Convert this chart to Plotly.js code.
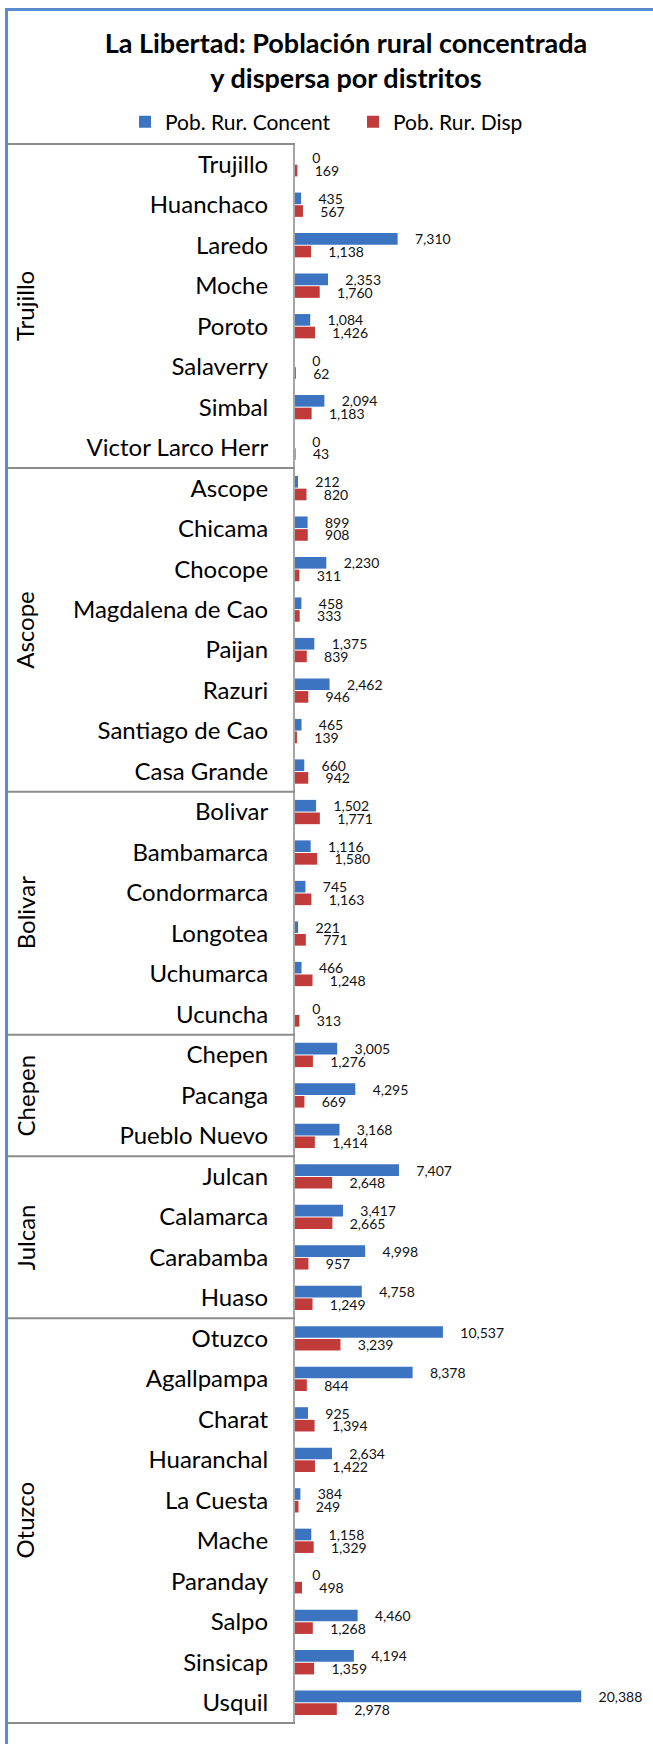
<!DOCTYPE html>
<html>
<head>
<meta charset="utf-8">
<script src="https://cdn.plot.ly/plotly-3.0.1.min.js"></script>
<style>
  html, body { margin: 0; padding: 0; background: #ffffff; }
  #chart { width: 653px; height: 1744px; }
</style>
</head>
<body>
<div id="chart"></div>
<script>
// ---- Data ----
var provinces = [
  'Trujillo','Trujillo','Trujillo','Trujillo','Trujillo','Trujillo','Trujillo','Trujillo',
  'Ascope','Ascope','Ascope','Ascope','Ascope','Ascope','Ascope','Ascope',
  'Bolivar','Bolivar','Bolivar','Bolivar','Bolivar','Bolivar',
  'Chepen','Chepen','Chepen',
  'Julcan','Julcan','Julcan','Julcan',
  'Otuzco','Otuzco','Otuzco','Otuzco','Otuzco','Otuzco','Otuzco','Otuzco','Otuzco','Otuzco'
];
var districts = [
  'Trujillo','Huanchaco','Laredo','Moche','Poroto','Salaverry','Simbal','Victor Larco Herr',
  'Ascope','Chicama','Chocope','Magdalena de Cao','Paijan','Razuri','Santiago de Cao','Casa Grande',
  'Bolivar','Bambamarca','Condormarca','Longotea','Uchumarca','Ucuncha',
  'Chepen','Pacanga','Pueblo Nuevo',
  'Julcan','Calamarca','Carabamba','Huaso',
  'Otuzco','Agallpampa','Charat','Huaranchal','La Cuesta','Mache','Paranday','Salpo','Sinsicap','Usquil'
];
var pobConcent = [
  0, 435, 7310, 2353, 1084, 0, 2094, 0,
  212, 899, 2230, 458, 1375, 2462, 465, 660,
  1502, 1116, 745, 221, 466, 0,
  3005, 4295, 3168,
  7407, 3417, 4998, 4758,
  10537, 8378, 925, 2634, 384, 1158, 0, 4460, 4194, 20388
];
var pobDisp = [
  169, 567, 1138, 1760, 1426, 62, 1183, 43,
  820, 908, 311, 333, 839, 946, 139, 942,
  1771, 1580, 1163, 771, 1248, 313,
  1276, 669, 1414,
  2648, 2665, 957, 1249,
  3239, 844, 1394, 1422, 249, 1329, 498, 1268, 1359, 2978
];
var seriesNames = ['Pob. Rur. Concent', 'Pob. Rur. Disp'];
var titleText = 'La Libertad: Población rural concentrada<br>y dispersa por distritos';

// ---- Layout constants (pixels) ----
var W = 653, H = 1744;
var M = {l: 295, r: 0, t: 144, b: 21, autoexpand: false};
var plotW = W - M.l - M.r, plotH = H - M.t - M.b;
function px2paperX(px) { return (px - M.l) / plotW; }
function px2paperY(py) { return (H - M.b - py) / plotH; }

var FONT = 'Lato, "Open Sans", sans-serif';
var N = districts.length;
var pad = '\u00A0\u00A0\u00A0\u00A0';

function fmt(v) { return pad + v.toLocaleString('en-US'); }

var traceBlue = {
  type: 'bar', orientation: 'h', name: seriesNames[0], legend: 'legend',
  y: districts, x: pobConcent,
  marker: {color: '#3C74C2'},
  text: pobConcent.map(fmt),
  textposition: 'outside', constraintext: 'none', cliponaxis: false,
  textfont: {family: FONT, size: 14, color: '#111111'},
  hoverinfo: 'x+y'
};
var traceRed = {
  type: 'bar', orientation: 'h', name: seriesNames[1], legend: 'legend2',
  y: districts, x: pobDisp,
  marker: {color: '#C23B3B'},
  text: pobDisp.map(fmt),
  textposition: 'outside', constraintext: 'none', cliponaxis: false,
  textfont: {family: FONT, size: 14, color: '#111111'},
  hoverinfo: 'x+y'
};

// Group boundaries from the province list
var groups = [];
provinces.forEach(function (p, i) {
  if (i === 0 || p !== provinces[i - 1]) groups.push({name: p, start: i, count: 1});
  else groups[groups.length - 1].count++;
});

var shapes = [];
var annotations = [];
var boxLeft = px2paperX(8);
groups.forEach(function (g) {
  var yTop = 1 - g.start / N;
  shapes.push({type: 'line', xref: 'paper', yref: 'paper', x0: boxLeft, x1: 0, y0: yTop, y1: yTop,
    line: {color: '#8C8C8C', width: 2}});
  annotations.push({xref: 'paper', yref: 'paper', x: px2paperX(25), y: 1 - (g.start + g.count / 2) / N,
    text: g.name, showarrow: false, textangle: -90, xanchor: 'center', yanchor: 'middle',
    font: {family: FONT, size: 24, color: '#000000'}});
});
shapes.push({type: 'line', xref: 'paper', yref: 'paper', x0: boxLeft, x1: 0, y0: 0, y1: 0,
  line: {color: '#8C8C8C', width: 2}});
// outer frame (top and left edges; the rest lies outside the picture)
shapes.push({type: 'line', xref: 'paper', yref: 'paper',
  x0: px2paperX(6.5), x1: px2paperX(653), y0: px2paperY(9.5), y1: px2paperY(9.5),
  line: {color: '#5B8BD0', width: 3}, layer: 'below'});
shapes.push({type: 'line', xref: 'paper', yref: 'paper',
  x0: px2paperX(6.5), x1: px2paperX(6.5), y0: px2paperY(8), y1: px2paperY(1744),
  line: {color: '#5B8BD0', width: 3}, layer: 'below'});

function legendAt(leftPx) {
  return {orientation: 'h', xref: 'container', yref: 'paper', x: leftPx / W, xanchor: 'left',
    y: px2paperY(122), yanchor: 'middle', font: {family: FONT, size: 21, color: '#000000'},
    bgcolor: 'rgba(0,0,0,0)', borderwidth: 0, itemclick: false};
}

var layout = {
  width: W, height: H,
  margin: M,
  paper_bgcolor: '#ffffff', plot_bgcolor: '#ffffff',
  font: {family: FONT, color: '#000000'},
  title: {text: titleText, xref: 'container', yref: 'container', x: 346 / W, xanchor: 'center',
    y: 1 - 53 / H, yanchor: 'top', font: {family: FONT, size: 27, color: '#000000', weight: 'bold'}},
  barmode: 'group', bargap: 0.375, bargroupgap: 0.08,
  showlegend: true,
  legend: legendAt(125),
  legend2: legendAt(353),
  xaxis: {range: [0, 25500], visible: false, fixedrange: true},
  yaxis: {type: 'category', categoryorder: 'array', categoryarray: districts,
    range: [N - 0.5, -0.5], showline: true, linecolor: '#A6A6A6', linewidth: 2,
    ticks: '', ticklabelstandoff: 20, showgrid: false, zeroline: false,
    tickfont: {family: FONT, size: 24, color: '#000000'}, fixedrange: true},
  shapes: shapes,
  annotations: annotations
};

Plotly.newPlot('chart', [traceBlue, traceRed], layout, {displayModeBar: false, staticPlot: true});
</script>
</body>
</html>
